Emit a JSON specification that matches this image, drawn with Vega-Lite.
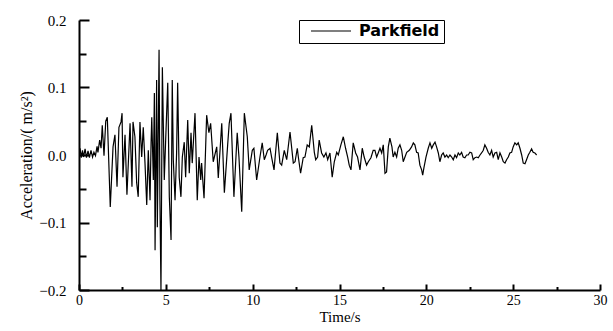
{
  "$schema": "https://vega.github.io/schema/vega-lite/v6.json",
  "width": 521,
  "height": 270,
  "autosize": {"type": "none"},
  "padding": {"left": 79, "top": 20, "right": 13, "bottom": 41},
  "background": "white",
  "data": {"values": [
    {"t":0.06,"a":0.010},{"t":0.13,"a":-0.004},{"t":0.20,"a":0.007},{"t":0.26,"a":-0.003},{"t":0.35,"a":0.009},{"t":0.43,"a":-0.004},{"t":0.52,"a":0.006},{"t":0.60,"a":-0.004},{"t":0.69,"a":0.007},{"t":0.78,"a":-0.003},
    {"t":0.86,"a":0.004},{"t":0.95,"a":-0.001},{"t":1.04,"a":0.013},{"t":1.09,"a":0.004},{"t":1.19,"a":0.022},{"t":1.27,"a":0.010},{"t":1.34,"a":0.044},{"t":1.44,"a":-0.001},{"t":1.54,"a":0.050},{"t":1.63,"a":0.056},
    {"t":1.80,"a":-0.077},{"t":1.96,"a":0.012},{"t":2.07,"a":0.030},{"t":2.19,"a":-0.047},{"t":2.30,"a":0.041},{"t":2.42,"a":0.049},{"t":2.48,"a":0.062},{"t":2.53,"a":-0.033},{"t":2.65,"a":0.030},{"t":2.76,"a":-0.059},
    {"t":2.94,"a":0.047},{"t":3.05,"a":-0.047},{"t":3.11,"a":0.049},{"t":3.22,"a":0.027},{"t":3.32,"a":-0.041},{"t":3.41,"a":-0.062},{"t":3.51,"a":0.049},{"t":3.61,"a":-0.003},{"t":3.70,"a":0.041},{"t":3.80,"a":-0.012},
    {"t":3.90,"a":-0.074},{"t":3.99,"a":0.007},{"t":4.09,"a":-0.067},{"t":4.15,"a":0.018},{"t":4.19,"a":0.056},{"t":4.28,"a":-0.037},{"t":4.34,"a":0.092},{"t":4.38,"a":-0.141},{"t":4.47,"a":0.111},{"t":4.51,"a":-0.107},
    {"t":4.61,"a":0.156},{"t":4.66,"a":-0.067},{"t":4.72,"a":-0.200},{"t":4.80,"a":0.130},{"t":4.91,"a":-0.037},{"t":4.99,"a":0.022},{"t":5.11,"a":0.107},{"t":5.20,"a":-0.062},{"t":5.30,"a":-0.126},{"t":5.37,"a":0.111},
    {"t":5.43,"a":-0.007},{"t":5.53,"a":-0.067},{"t":5.62,"a":0.003},{"t":5.68,"a":0.107},{"t":5.77,"a":-0.033},{"t":5.87,"a":-0.062},{"t":5.95,"a":-0.003},{"t":6.06,"a":0.019},{"t":6.14,"a":-0.033},{"t":6.26,"a":0.052},
    {"t":6.35,"a":-0.027},{"t":6.45,"a":0.033},{"t":6.52,"a":-0.012},{"t":6.68,"a":0.062},{"t":6.81,"a":-0.067},{"t":6.91,"a":-0.003},{"t":7.01,"a":-0.037},{"t":7.06,"a":-0.012},{"t":7.20,"a":-0.064},{"t":7.35,"a":0.059},
    {"t":7.48,"a":0.033},{"t":7.58,"a":0.047},{"t":7.73,"a":-0.010},{"t":7.93,"a":0.012},{"t":8.02,"a":-0.034},{"t":8.22,"a":0.047},{"t":8.37,"a":-0.056},{"t":8.56,"a":0.015},{"t":8.65,"a":0.047},{"t":8.75,"a":0.062},
    {"t":8.92,"a":-0.062},{"t":9.11,"a":0.033},{"t":9.21,"a":-0.003},{"t":9.37,"a":-0.084},{"t":9.52,"a":0.062},{"t":9.69,"a":0.027},{"t":9.80,"a":-0.022},{"t":9.98,"a":0.007},{"t":10.07,"a":0.010},{"t":10.23,"a":-0.037},
    {"t":10.42,"a":-0.003},{"t":10.55,"a":0.018},{"t":10.67,"a":-0.007},{"t":10.77,"a":0.000},{"t":10.86,"a":0.007},{"t":11.00,"a":0.010},{"t":11.09,"a":-0.003},{"t":11.23,"a":-0.022},{"t":11.42,"a":0.033},{"t":11.57,"a":-0.012},
    {"t":11.67,"a":-0.015},{"t":11.82,"a":0.007},{"t":11.96,"a":-0.007},{"t":12.15,"a":0.034},{"t":12.34,"a":-0.012},{"t":12.44,"a":-0.010},{"t":12.57,"a":0.010},{"t":12.63,"a":-0.003},{"t":12.76,"a":-0.027},{"t":12.91,"a":-0.004},
    {"t":13.01,"a":-0.003},{"t":13.14,"a":0.015},{"t":13.26,"a":0.012},{"t":13.40,"a":0.044},{"t":13.55,"a":0.004},{"t":13.63,"a":-0.007},{"t":13.74,"a":-0.003},{"t":13.83,"a":0.022},{"t":13.97,"a":0.003},{"t":14.10,"a":-0.003},
    {"t":14.22,"a":0.003},{"t":14.32,"a":-0.007},{"t":14.45,"a":0.003},{"t":14.58,"a":-0.033},{"t":14.70,"a":-0.010},{"t":14.84,"a":0.004},{"t":14.93,"a":0.000},{"t":15.08,"a":0.015},{"t":15.22,"a":0.027},{"t":15.35,"a":0.010},
    {"t":15.47,"a":-0.003},{"t":15.56,"a":-0.015},{"t":15.66,"a":-0.022},{"t":15.79,"a":0.018},{"t":15.93,"a":0.003},{"t":16.04,"a":-0.003},{"t":16.18,"a":-0.022},{"t":16.31,"a":0.010},{"t":16.42,"a":-0.003},{"t":16.56,"a":-0.015},
    {"t":16.66,"a":-0.010},{"t":16.81,"a":-0.004},{"t":16.94,"a":0.007},{"t":17.04,"a":0.007},{"t":17.14,"a":-0.003},{"t":17.23,"a":0.003},{"t":17.33,"a":0.010},{"t":17.43,"a":0.003},{"t":17.52,"a":0.015},{"t":17.62,"a":-0.027},
    {"t":17.71,"a":-0.025},{"t":17.81,"a":0.012},{"t":17.90,"a":0.025},{"t":18.02,"a":0.012},{"t":18.09,"a":-0.003},{"t":18.19,"a":0.004},{"t":18.29,"a":-0.003},{"t":18.38,"a":0.010},{"t":18.48,"a":0.015},{"t":18.58,"a":0.007},
    {"t":18.67,"a":-0.010},{"t":18.77,"a":-0.003},{"t":18.87,"a":0.004},{"t":19.02,"a":0.007},{"t":19.15,"a":0.012},{"t":19.25,"a":0.018},{"t":19.34,"a":0.015},{"t":19.44,"a":0.004},{"t":19.53,"a":0.003},{"t":19.63,"a":-0.015},
    {"t":19.73,"a":-0.022},{"t":19.79,"a":-0.030},{"t":19.86,"a":-0.019},{"t":19.98,"a":-0.003},{"t":20.11,"a":0.010},{"t":20.21,"a":0.018},{"t":20.31,"a":0.010},{"t":20.40,"a":0.015},{"t":20.50,"a":0.019},{"t":20.59,"a":0.012},
    {"t":20.69,"a":0.003},{"t":20.78,"a":-0.010},{"t":20.88,"a":0.000},{"t":20.97,"a":0.003},{"t":21.07,"a":-0.003},{"t":21.17,"a":0.000},{"t":21.26,"a":-0.004},{"t":21.36,"a":0.000},{"t":21.46,"a":-0.003},{"t":21.55,"a":-0.007},
    {"t":21.65,"a":0.000},{"t":21.74,"a":-0.004},{"t":21.84,"a":0.003},{"t":21.93,"a":0.000},{"t":22.03,"a":0.004},{"t":22.12,"a":-0.003},{"t":22.22,"a":-0.004},{"t":22.32,"a":0.000},{"t":22.41,"a":0.000},{"t":22.51,"a":0.004},
    {"t":22.61,"a":0.003},{"t":22.70,"a":-0.007},{"t":22.80,"a":-0.004},{"t":22.90,"a":-0.003},{"t":22.99,"a":-0.004},{"t":23.09,"a":0.000},{"t":23.18,"a":0.003},{"t":23.28,"a":0.007},{"t":23.37,"a":0.015},{"t":23.47,"a":0.010},
    {"t":23.56,"a":0.004},{"t":23.66,"a":0.000},{"t":23.76,"a":0.007},{"t":23.85,"a":-0.003},{"t":23.95,"a":0.003},{"t":24.05,"a":0.004},{"t":24.14,"a":-0.007},{"t":24.24,"a":0.003},{"t":24.34,"a":-0.003},{"t":24.43,"a":-0.010},
    {"t":24.53,"a":-0.012},{"t":24.62,"a":-0.007},{"t":24.72,"a":-0.003},{"t":24.81,"a":0.003},{"t":24.91,"a":0.004},{"t":25.00,"a":0.012},{"t":25.10,"a":0.018},{"t":25.20,"a":0.015},{"t":25.29,"a":0.018},{"t":25.39,"a":0.010},
    {"t":25.49,"a":0.000},{"t":25.58,"a":-0.012},{"t":25.68,"a":-0.013},{"t":25.77,"a":-0.007},{"t":25.87,"a":0.000},{"t":25.96,"a":0.004},{"t":26.06,"a":0.009},{"t":26.15,"a":0.004},{"t":26.25,"a":0.003},{"t":26.35,"a":0.000}
  ]},
  "mark": {"type": "line", "strokeWidth": 1.2, "clip": true},
  "encoding": {
    "x": {
      "field": "t", "type": "quantitative",
      "scale": {"domain": [0, 30], "nice": false},
      "axis": {
        "title": "Time/s",
        "values": [0, 2.5, 5, 7.5, 10, 12.5, 15, 17.5, 20, 22.5, 25, 27.5, 30],
        "labelExpr": "datum.value % 5 === 0 ? datum.label : ''",
        "tickSize": {"condition": {"test": "datum.value % 5 === 0", "value": -6}, "value": -3.5},
        "labelFlush": false,
        "labelPadding": 9,
        "labelFontSize": 14,
        "titleFontSize": 15,
        "titlePadding": 2
      }
    },
    "y": {
      "field": "a", "type": "quantitative",
      "scale": {"domain": [-0.2, 0.2], "nice": false},
      "axis": {
        "title": "Acceleration/( m/s²)",
        "values": [-0.2, -0.15, -0.1, -0.05, 0, 0.05, 0.1, 0.15, 0.2],
        "labelExpr": "abs(datum.value*10 - round(datum.value*10)) < 0.01 ? format(datum.value, '.1f') : ''",
        "tickSize": {"condition": {"test": "abs(datum.value*10 - round(datum.value*10)) < 0.01", "value": -10}, "value": -7},
        "labelFlush": false,
        "labelPadding": 23,
        "labelFontSize": 15,
        "titleFontSize": 16,
        "titlePadding": 4
      }
    },
    "color": {
      "datum": "Parkfield",
      "type": "nominal",
      "scale": {"range": ["black"]},
      "legend": {
        "title": null,
        "orient": "none",
        "legendX": 220,
        "legendY": 0,
        "strokeColor": "black",
        "padding": 4,
        "clipHeight": 14,
        "symbolType": "stroke",
        "symbolSize": 1600,
        "symbolOffset": 7,
        "symbolStrokeWidth": 1.2,
        "labelOffset": 7,
        "labelFont": "DejaVu Sans",
        "labelFontWeight": "bold",
        "labelFontSize": 16,
        "labelColor": "black"
      }
    }
  },
  "config": {
    "view": {"stroke": null},
    "axis": {
      "grid": false,
      "domainColor": "black",
      "domainWidth": 2,
      "tickColor": "black",
      "tickWidth": 2,
      "labelColor": "black",
      "labelFont": "Liberation Serif",
      "titleFont": "Liberation Serif",
      "titleFontWeight": "normal",
      "titleColor": "black"
    }
  }
}
